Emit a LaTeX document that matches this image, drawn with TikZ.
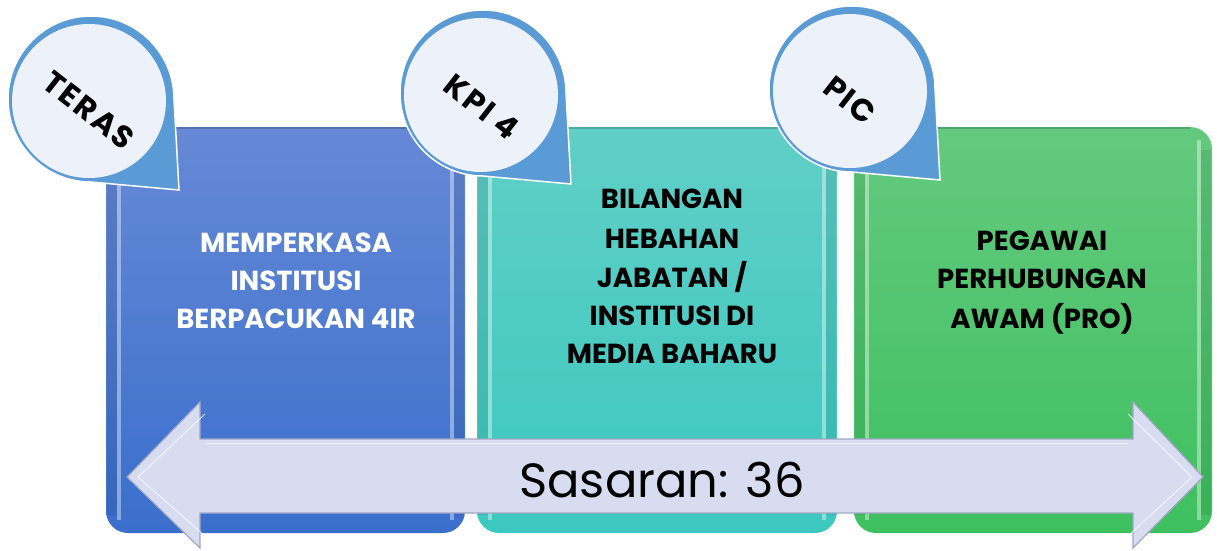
\documentclass[tikz,border=0pt]{standalone}
\usepackage{fontspec}
\setmainfont{Poppins}
\newfontfamily\calfont[LetterSpace=7]{Poppins}
\definecolor{ringblue}{HTML}{5B9BD5}
\definecolor{calfill}{HTML}{EDF2FA}
\definecolor{bTop}{HTML}{6689D6}
\definecolor{bBot}{HTML}{3A6FCC}
\definecolor{tTop}{HTML}{60CFC6}
\definecolor{tBot}{HTML}{3CC8C0}
\definecolor{gTop}{HTML}{64C97E}
\definecolor{gBot}{HTML}{3EC060}
\definecolor{arrfill}{HTML}{D7DCF0}
\definecolor{arrline}{HTML}{9FA7C3}
\tikzset{
  panel/.style={rounded corners=22pt},
  darkband/.style={fill=black, opacity=.08},
  brightband/.style={fill=white, opacity=.40},
  callout/.pic={
    \path[fill=ringblue, draw=white, line width=1.5pt]
      (83,0) arc[start angle=0, end angle=-270, radius=83] -- (88,91) -- cycle;
    \fill[calfill] (-2,2) circle[radius=77];
  },
  caltext/.style={font=\calfont\bfseries\fontsize{31}{32}\selectfont, text=black, rotate=-38, inner sep=0pt},
  paneltext/.style={font=\bfseries\fontsize{27.5}{30}\selectfont, anchor=base, inner sep=0pt},
  arrowst/.style={fill=arrfill, draw=arrline, line width=1.2pt, line join=miter},
}
\begin{document}
\begin{tikzpicture}[x=1pt,y=-1pt]
\useasboundingbox (0,0) rectangle (1217,550);
% panels
\foreach \L/\R/\ct/\cb in {106/465/bTop/bBot, 477/837/tTop/tBot, 854/1212/gTop/gBot}{
  \path[panel, top color=\ct, bottom color=\cb] (\L,127) rectangle (\R,533);
  \fill[darkband] (\L+1,150) rectangle (\L+11,515);
  \fill[brightband] (\L+11,140) rectangle (\L+15,520);
  \fill[darkband] (\R-11,150) rectangle (\R-1,515);
  \fill[brightband] (\R-15,140) rectangle (\R-11,520);
  \draw[black, opacity=.18, line width=1.5pt] (\L+22,128) -- (\R-22,128);
}
% callouts
\pic at (91,99) {callout};
\pic at (483,93) {callout};
\pic at (852,89) {callout};
\node[caltext] (c1) at (89,110) {TERAS};
\node[caltext] (c2) at (482,107) {KPI 4};
\node[caltext] (c3) at (850,100) {PIC};
% panel texts
\node[paneltext, text=white] (b1) at (296,252) {MEMPERKASA};
\node[paneltext, text=white] (b2) at (296,290) {INSTITUSI};
\node[paneltext, text=white] (b3) at (296,328) {BERPACUKAN 4IR};
\node[paneltext] (t1) at (672,208) {BILANGAN};
\node[paneltext] (t2) at (672,248) {HEBAHAN};
\node[paneltext] (t3) at (672,287) {JABATAN /};
\node[paneltext] (t4) at (672,325) {INSTITUSI DI};
\node[paneltext] (t5) at (672,363) {MEDIA BAHARU};
\node[paneltext] (g1) at (1042,250) {PEGAWAI};
\node[paneltext] (g2) at (1042,288) {PERHUBUNGAN};
\node[paneltext] (g3) at (1042,328) {AWAM (PRO)};
% double arrow
\path[arrowst] (127,477) -- (200,402) -- (200,439) -- (1133,439) -- (1133,402)
  -- (1203,477) -- (1133,548) -- (1133,513) -- (200,513) -- (200,548) -- cycle;
\draw[white, opacity=.7, line width=1pt] (205,414) -- (138,477) -- (205,536);
\draw[white, opacity=.7, line width=1pt] (1128,414) -- (1192,477) -- (1128,536);
\draw[white, opacity=.6, line width=1pt] (205,443) -- (1128,443);
\node[font=\fontsize{48}{50}\selectfont, anchor=base, inner sep=0pt] (s) at (662,497) {Sasaran: 36};
\end{tikzpicture}
\end{document}
